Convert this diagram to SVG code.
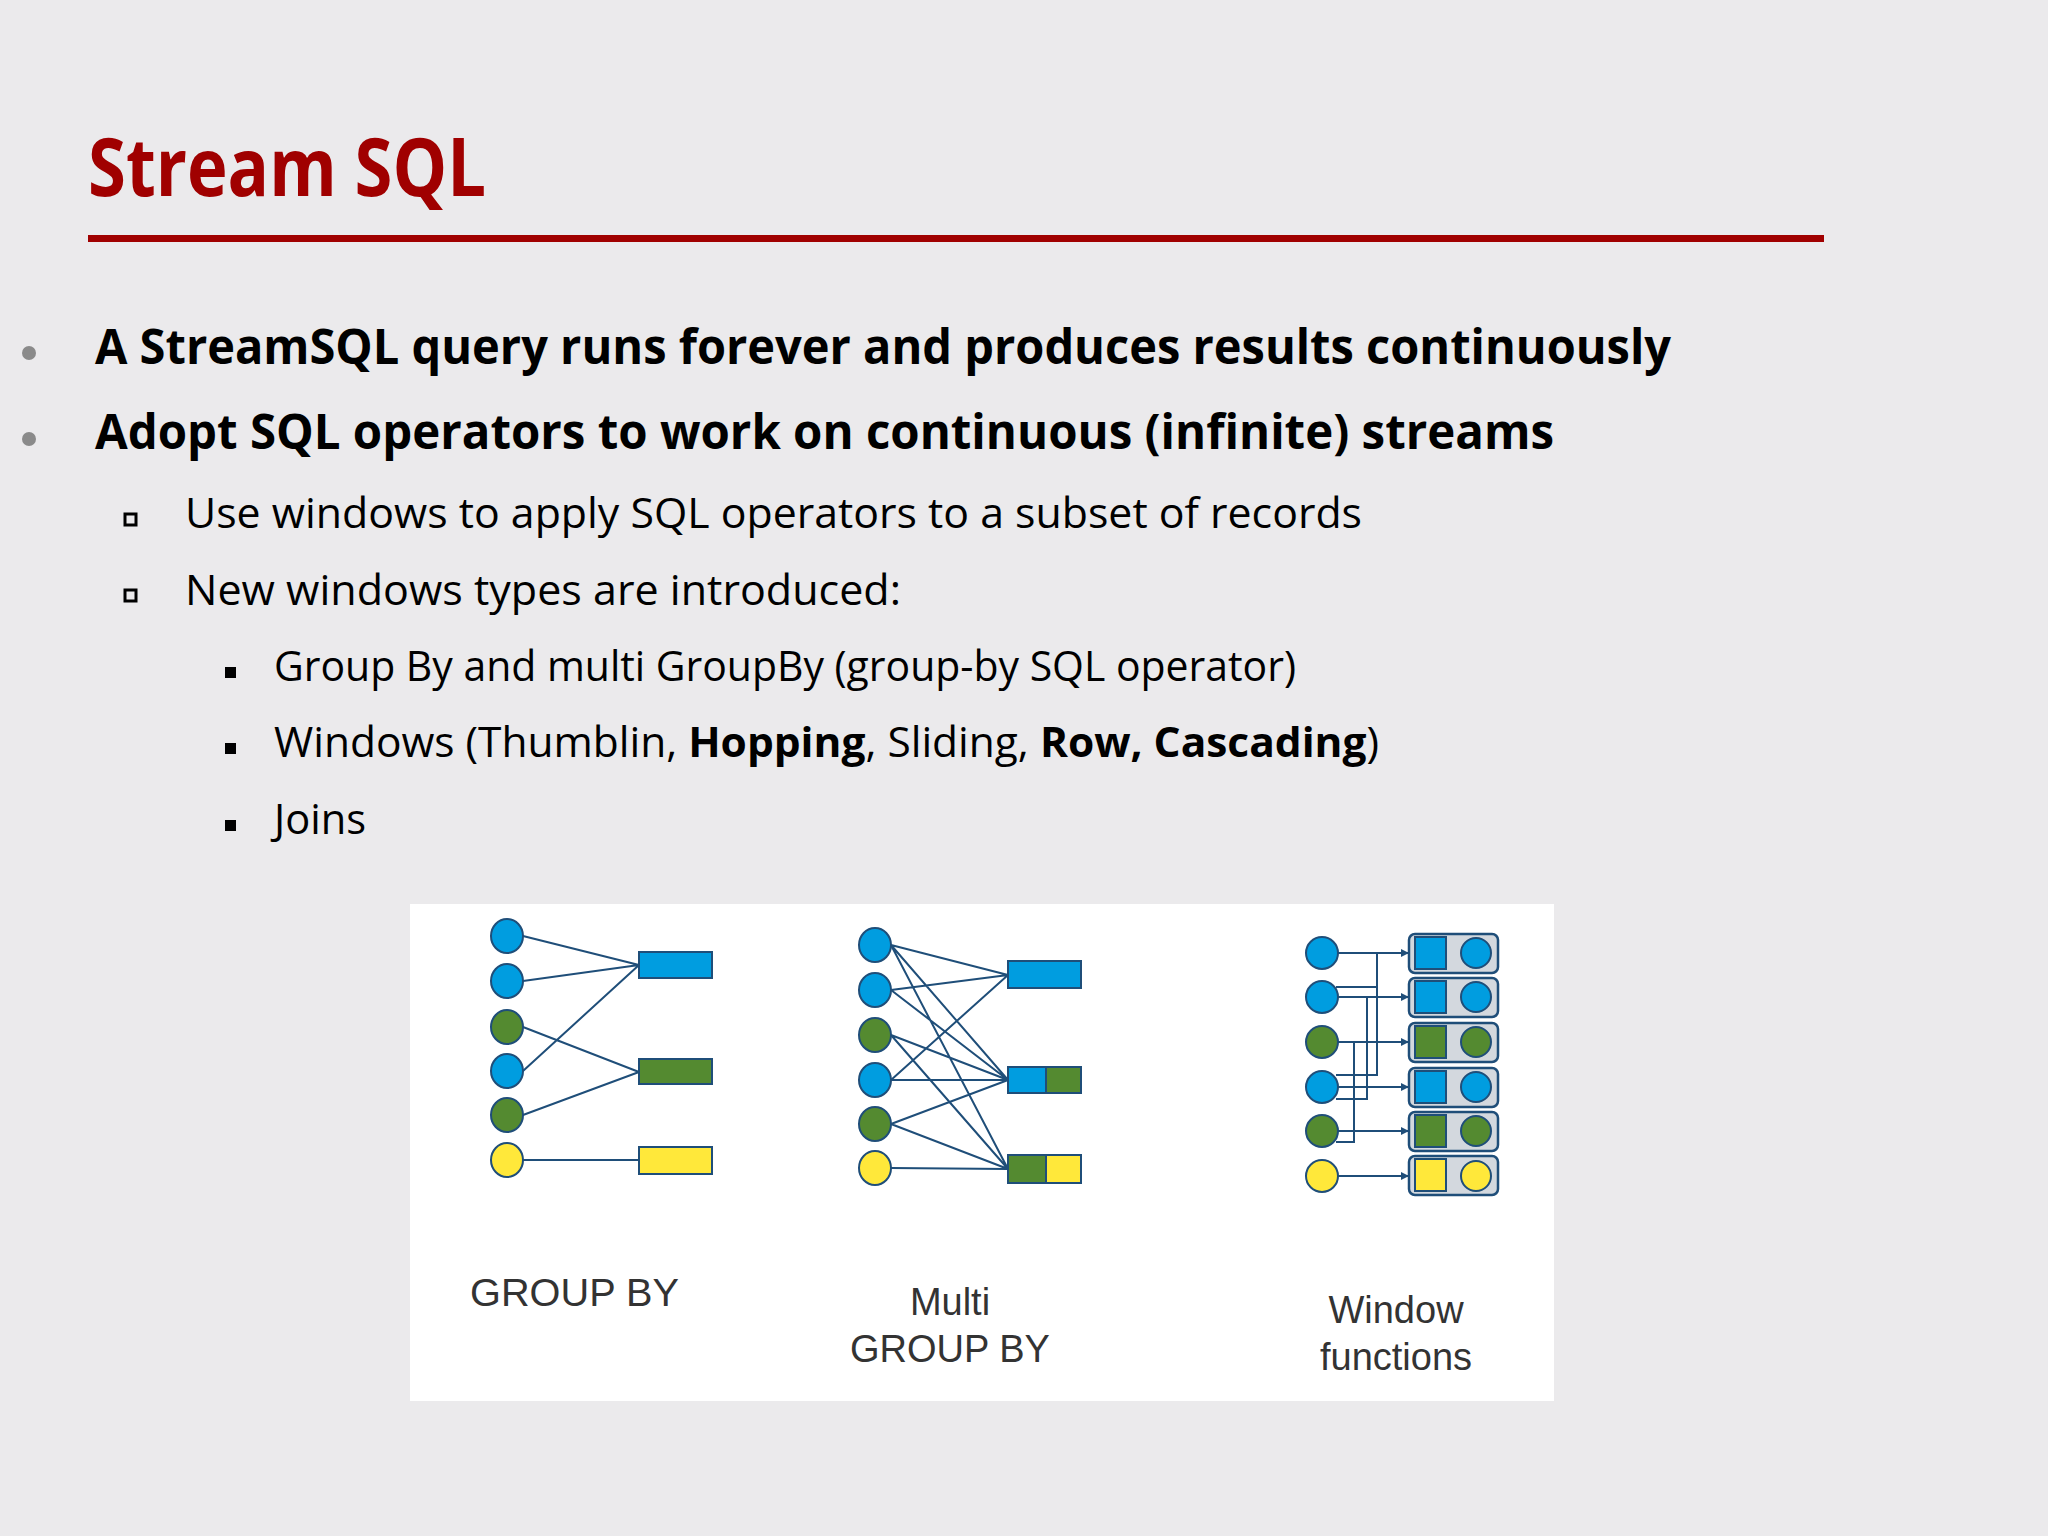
<svg xmlns="http://www.w3.org/2000/svg" width="2048" height="1536" viewBox="0 0 2048 1536">
<defs>
<style>
.b{fill:#009de0;stroke:#1f4e79;stroke-width:2}
.g{fill:#548a30;stroke:#1f4e79;stroke-width:2}
.y{fill:#ffe83a;stroke:#1f4e79;stroke-width:2}
.ln{stroke:#1f4e79;stroke-width:2;fill:none}
.t1{font-family:"Open Sans","Liberation Sans",sans-serif;font-weight:bold;font-size:48px;fill:#000}
.t2{font-family:"Open Sans","Liberation Sans",sans-serif;font-size:42px;fill:#000}
.lab{font-family:"Liberation Sans",Arial,sans-serif;font-size:38px;fill:#333}
.box{fill:#d3d8de;stroke:#1f4e79;stroke-width:2.5}
</style>
<marker id="ar" markerWidth="8" markerHeight="8" refX="7" refY="4" orient="auto" markerUnits="userSpaceOnUse"><path d="M0,0 L8,4 L0,8 z" fill="#1f4e79"/></marker>
</defs>
<rect width="2048" height="1536" fill="#ebeaec"/>
<text x="88" y="196" font-family="Open Sans,Liberation Sans,sans-serif" font-weight="bold" font-size="80" fill="#a00000" textLength="398" lengthAdjust="spacingAndGlyphs">Stream SQL</text>
<rect x="88" y="235" width="1736" height="7" fill="#a00000"/>
<circle cx="29" cy="353" r="7" fill="#8a8a8a"/>
<circle cx="29" cy="439" r="7" fill="#8a8a8a"/>
<text class="t1" x="95" y="364" textLength="1576" lengthAdjust="spacingAndGlyphs">A StreamSQL query runs forever and produces results continuously</text>
<text class="t1" x="95" y="449" textLength="1459" lengthAdjust="spacingAndGlyphs">Adopt SQL operators to work on continuous (infinite) streams</text>
<rect x="125" y="514" width="11" height="11" fill="none" stroke="#000" stroke-width="3"/>
<rect x="125" y="590" width="11" height="11" fill="none" stroke="#000" stroke-width="3"/>
<text class="t2" x="185" y="528" textLength="1177" lengthAdjust="spacingAndGlyphs">Use windows to apply SQL operators to a subset of records</text>
<text class="t2" x="185" y="605" textLength="716" lengthAdjust="spacingAndGlyphs">New windows types are introduced:</text>
<rect x="225" y="667" width="11" height="11" fill="#000"/>
<rect x="225" y="743" width="11" height="11" fill="#000"/>
<rect x="225" y="820" width="11" height="11" fill="#000"/>
<text class="t2" x="274" y="681" textLength="1022" lengthAdjust="spacingAndGlyphs">Group By and multi GroupBy (group-by SQL operator)</text>
<text class="t2" x="274" y="757" textLength="1105" lengthAdjust="spacingAndGlyphs">Windows (Thumblin, <tspan font-weight="bold">Hopping</tspan>, Sliding, <tspan font-weight="bold">Row, Cascading</tspan>)</text>
<text class="t2" x="274" y="834" textLength="92" lengthAdjust="spacingAndGlyphs">Joins</text>
<rect x="410" y="904" width="1144" height="497" fill="#fff"/>
<g id="connectors">
<path class="ln" d="M523,936 L639,965 M523,981 L639,965 M523,1071 L639,965 M523,1027 L639,1072 M523,1115 L639,1072 M523,1160 L639,1160"/>
<path class="ln" d="M891,945 L1008,975 M891,990 L1008,975 M891,1080 L1008,975 M891,945 L1008,1080 M891,990 L1008,1080 M891,1035 L1008,1080 M891,1080 L1008,1080 M891,1124 L1008,1080 M891,1035 L1008,1169 M891,1124 L1008,1169 M891,1168 L1008,1169 M891,945 L1008,1169"/>
<g marker-end="url(#ar)">
<path class="ln" d="M1338,953 H1408"/>
<path class="ln" d="M1338,997 H1408"/>
<path class="ln" d="M1338,1042 H1408"/>
<path class="ln" d="M1338,1087 H1408"/>
<path class="ln" d="M1338,1131 H1408"/>
<path class="ln" d="M1338,1176 H1408"/>
</g>
<path class="ln" d="M1336,987 H1377 V953 M1336,1075 H1377 V987 M1336,1099 H1367 V997 M1336,1142 H1354 V1042"/>
</g>
<g id="groupby">
<ellipse class="b" cx="507" cy="936" rx="16" ry="17"/>
<ellipse class="b" cx="507" cy="981" rx="16" ry="17"/>
<ellipse class="g" cx="507" cy="1027" rx="16" ry="17"/>
<ellipse class="b" cx="507" cy="1071" rx="16" ry="17"/>
<ellipse class="g" cx="507" cy="1115" rx="16" ry="17"/>
<ellipse class="y" cx="507" cy="1160" rx="16" ry="17"/>
<rect class="b" x="639" y="952" width="73" height="26"/>
<rect class="g" x="639" y="1059" width="73" height="25"/>
<rect class="y" x="639" y="1147" width="73" height="27"/>
<text class="lab" x="470" y="1306" textLength="209" lengthAdjust="spacingAndGlyphs">GROUP BY</text>
</g>
<g id="multigroupby">
<ellipse class="b" cx="875" cy="945" rx="16" ry="17"/>
<ellipse class="b" cx="875" cy="990" rx="16" ry="17"/>
<ellipse class="g" cx="875" cy="1035" rx="16" ry="17"/>
<ellipse class="b" cx="875" cy="1080" rx="16" ry="17"/>
<ellipse class="g" cx="875" cy="1124" rx="16" ry="17"/>
<ellipse class="y" cx="875" cy="1168" rx="16" ry="17"/>
<rect class="b" x="1008" y="961" width="73" height="27"/>
<rect class="b" x="1008" y="1067" width="38" height="26"/>
<rect class="g" x="1046" y="1067" width="35" height="26"/>
<rect class="g" x="1008" y="1155" width="38" height="28"/>
<rect class="y" x="1046" y="1155" width="35" height="28"/>
<text class="lab" x="950" y="1315" text-anchor="middle">Multi</text>
<text class="lab" x="950" y="1362" text-anchor="middle">GROUP BY</text>
</g>
<g id="windowfunctions">
<circle class="b" cx="1322" cy="953" r="16"/>
<circle class="b" cx="1322" cy="997" r="16"/>
<circle class="g" cx="1322" cy="1042" r="16"/>
<circle class="b" cx="1322" cy="1087" r="16"/>
<circle class="g" cx="1322" cy="1131" r="16"/>
<circle class="y" cx="1322" cy="1176" r="16"/>
<rect class="box" x="1409" y="934" width="89" height="39" rx="6"/>
<rect class="box" x="1409" y="978" width="89" height="39" rx="6"/>
<rect class="box" x="1409" y="1023" width="89" height="39" rx="6"/>
<rect class="box" x="1409" y="1068" width="89" height="39" rx="6"/>
<rect class="box" x="1409" y="1112" width="89" height="39" rx="6"/>
<rect class="box" x="1409" y="1156" width="89" height="39" rx="6"/>
<rect class="b" x="1415" y="937" width="31" height="32"/>
<rect class="b" x="1415" y="981" width="31" height="32"/>
<rect class="g" x="1415" y="1026" width="31" height="32"/>
<rect class="b" x="1415" y="1071" width="31" height="32"/>
<rect class="g" x="1415" y="1115" width="31" height="32"/>
<rect class="y" x="1415" y="1159" width="31" height="32"/>
<circle class="b" cx="1476" cy="953" r="15"/>
<circle class="b" cx="1476" cy="997" r="15"/>
<circle class="g" cx="1476" cy="1042" r="15"/>
<circle class="b" cx="1476" cy="1087" r="15"/>
<circle class="g" cx="1476" cy="1131" r="15"/>
<circle class="y" cx="1476" cy="1176" r="15"/>
<text class="lab" x="1396" y="1323" text-anchor="middle">Window</text>
<text class="lab" x="1396" y="1370" text-anchor="middle">functions</text>
</g>
</svg>
